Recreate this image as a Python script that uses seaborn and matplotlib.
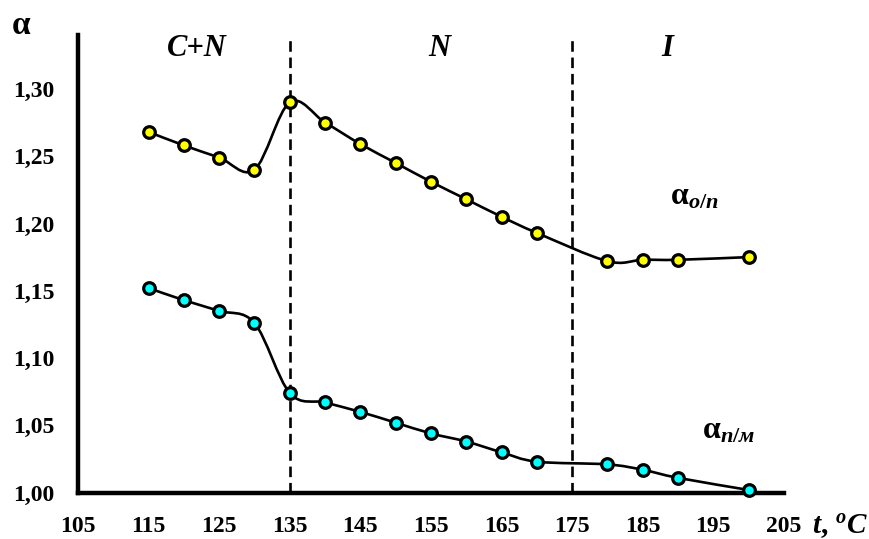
import numpy as np
import matplotlib
matplotlib.use("Agg")
import matplotlib.pyplot as plt
from matplotlib.path import Path
from matplotlib.patches import PathPatch
import seaborn as sns

# temperatures, degC
temps = [115, 120, 125, 130, 135, 140, 145, 150, 155, 160, 165, 170, 180, 185, 190, 200]
# alpha o/p (upper curve)
alpha_op = [1.268, 1.258, 1.249, 1.240, 1.290, 1.275, 1.259, 1.245, 1.231, 1.218,
            1.205, 1.193, 1.172, 1.173, 1.173, 1.175]
# alpha p/m (lower curve)
alpha_pm = [1.152, 1.143, 1.135, 1.126, 1.074, 1.067, 1.060, 1.052, 1.044, 1.038,
            1.030, 1.023, 1.021, 1.017, 1.011, 1.002]

phase_bounds = [135, 175]
phase_labels = [("C+N", 121.8), ("N", 156.2), ("I", 188.5)]
xticks = list(range(105, 206, 10))
yticks = [1.00, 1.05, 1.10, 1.15, 1.20, 1.25, 1.30]


def smooth_path(x, y):
    # excel-like smoothed line: cubic bezier segments (catmull-rom control points)
    pts = np.column_stack([x, y]).astype(float)
    n = len(pts)
    verts = [pts[0]]
    codes = [Path.MOVETO]
    for i in range(n - 1):
        p0 = pts[i - 1] if i > 0 else pts[i]
        p1, p2 = pts[i], pts[i + 1]
        p3 = pts[i + 2] if i + 2 < n else pts[i + 1]
        c1 = p1 + (p2 - p0) / 6.0
        c2 = p2 - (p3 - p1) / 6.0
        verts += [c1, c2, p2]
        codes += [Path.CURVE4] * 3
    return Path(verts, codes)


sns.set_style("white")
plt.rcParams["font.family"] = ["Liberation Serif", "DejaVu Serif"]
plt.rcParams["font.weight"] = "bold"
plt.rcParams["mathtext.fontset"] = "custom"
plt.rcParams["mathtext.rm"] = "Liberation Serif:bold"
plt.rcParams["mathtext.bf"] = "Liberation Serif:bold"
plt.rcParams["mathtext.it"] = "Liberation Serif:italic:bold"
for key in ["text.color", "axes.labelcolor", "xtick.color", "ytick.color", "axes.edgecolor"]:
    plt.rcParams[key] = "black"

fig = plt.figure(figsize=(8.69, 5.39), dpi=100)
ax = fig.add_axes([0.0898, 0.086, 0.8122, 0.849])

for ys, col in [(alpha_op, "#ffff00"), (alpha_pm, "#00ffff")]:
    ax.add_patch(PathPatch(smooth_path(temps, ys), facecolor="none",
                           edgecolor="black", lw=1.9, zorder=3))
    sns.scatterplot(x=temps, y=ys, ax=ax, color=col, edgecolor="black",
                    linewidth=2.3, s=70, zorder=4, clip_on=False, legend=False)

for xb in phase_bounds:
    ax.axvline(xb, color="black", lw=1.9, ls=(0, (4, 2.2)), zorder=2)

for lab, xp in phase_labels:
    ax.text(xp, 1.330, lab, ha="center", va="center", fontsize=22,
            fontstyle="italic", fontweight="bold")

ax.text(192.3, 1.220, r"$\mathbf{α}_{\mathit{о/п}}$", ha="center", va="center", fontsize=23)
ax.text(197.2, 1.046, r"$\mathbf{α}_{\mathit{п/м}}$", ha="center", va="center", fontsize=23)

ax.set_xlim(105, 205)
ax.set_ylim(1.00, 1.34)
ax.set_xticks(xticks)
ax.set_yticks(yticks)
ax.set_xticklabels([str(t) for t in xticks])
ax.set_yticklabels([f"{v:.2f}".replace(".", ",") for v in yticks])
ax.tick_params(direction="in", length=6, width=2.5, labelsize=17)
ax.tick_params(axis="x", pad=17)
ax.tick_params(axis="y", pad=17)
for t in ax.get_xticklabels() + ax.get_yticklabels():
    t.set_fontweight("bold")

sns.despine(ax=ax)
ax.spines["left"].set_linewidth(3.2)
ax.spines["bottom"].set_linewidth(3.2)

fig.text(0.013, 0.952, "α", fontsize=24, ha="left", va="center")
fig.text(0.934, 0.024, r"$\mathit{t,\,^{o}C}$", fontsize=21, ha="left", va="center")

fig.savefig("out.png", dpi=100)
